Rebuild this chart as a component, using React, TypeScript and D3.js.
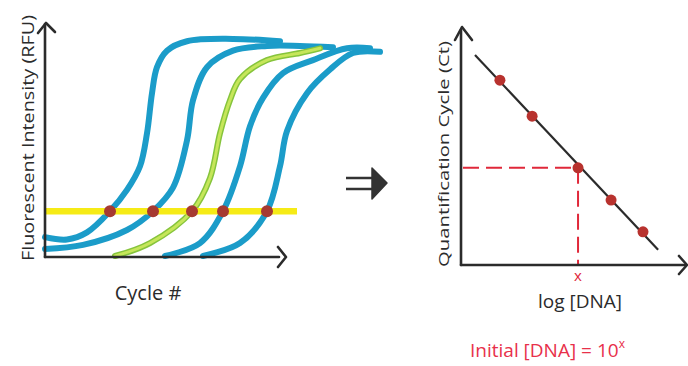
import React from 'react';
import * as d3 from 'd3';

// Amplification curves: [cycle, RFU]
const curveA: [number, number][] = [[0, 8], [4.4, 7], [8.4, 10], [13, 19], [16.4, 28], [19, 38], [20.4, 52], [21.4, 69], [22.4, 80], [24.4, 87], [28.4, 91], [37.6, 92], [47, 91]];
const curveB: [number, number][] = [[0, 3], [7.6, 4.7], [16.4, 11], [21.6, 19], [25.6, 29], [28.4, 49], [29.6, 66], [32.4, 80], [37.6, 87], [44.4, 89], [51, 89], [57.6, 88.5]];
const curveC: [number, number][] = [[14, 0], [21, 5.5], [29.4, 19], [33, 33], [35, 52], [37, 66], [39, 75], [44.4, 83], [51, 86], [55, 88]];
const curveD: [number, number][] = [[24, 0], [31, 5.5], [35.6, 19], [39, 38], [41, 55], [43.6, 67], [47.6, 77.5], [53.6, 83], [60.4, 88], [65, 88]];
const curveE: [number, number][] = [[31.6, 0], [39, 5.5], [44.4, 19], [47, 38], [48.4, 53], [52.4, 69], [57, 79], [61.6, 86], [67, 86.5]];
const ampCurves = [curveA, curveB, curveC, curveD, curveE];
const curveKinds = ['blue', 'blue', 'green', 'blue', 'blue'];
const thresholdRfu = 19;
const ctValues = [13, 21.6, 29.4, 35.6, 44.4];

// Standard curve: log[DNA] vs Ct
const logDna = [1.39, 2.54, 4.18, 5.36, 6.5];
const ctStd = [39, 31.4, 20.5, 13.7, 7.0];
const fitLine: [number, number][] = [[0.5, 44.3], [7.04, 3.2]];
const unknownLog = 4.18;
const unknownCt = 20.5;

const ink = '#2b2b2b';
const blue = '#1b9cc9';
const font = "'Open Sans', 'DejaVu Sans', sans-serif";

export default function App() {
  const xL = d3.scaleLinear().domain([0, 48]).range([45, 285]);
  const yL = d3.scaleLinear().domain([0, 100]).range([256, 20]);
  const xR = d3.scaleLinear().domain([0, 8]).range([461, 685]);
  const yR = d3.scaleLinear().domain([0, 50]).range([265, 28]);

  const line = d3
    .line<[number, number]>()
    .x((d) => xL(d[0]))
    .y((d) => yL(d[1]))
    .curve(d3.curveCatmullRom.alpha(0.5));

  const fit = d3
    .line<[number, number]>()
    .x((d) => xR(d[0]))
    .y((d) => yR(d[1]));

  const [lx0, lx1] = xL.range();
  const [ly0] = yL.range();
  const [rx0] = xR.range();
  const [ry0] = yR.range();

  return (
    <svg width={688} height={366} style={{ position: 'absolute', left: 0, top: 0, background: '#fff' }}>
      {/* Left panel curves */}
      {ampCurves.map((c, i) =>
        curveKinds[i] === 'green' ? (
          <g key={i}>
            <path d={line(c) || ''} fill="none" stroke="#86c43c" strokeWidth={6} strokeLinecap="round" />
            <path d={line(c) || ''} fill="none" stroke="#c6e65a" strokeWidth={3} strokeLinecap="round" />
          </g>
        ) : (
          <path key={i} d={line(c) || ''} fill="none" stroke={blue} strokeWidth={6} strokeLinecap="round" />
        )
      )}
      {/* threshold */}
      <line x1={lx0} x2={lx1 + 12} y1={yL(thresholdRfu)} y2={yL(thresholdRfu)} stroke="#f6eb16" strokeWidth={6.5} />
      {ctValues.map((ct, i) => (
        <circle key={i} cx={xL(ct)} cy={yL(thresholdRfu)} r={6} fill="#a63a32" />
      ))}
      {/* Left axes */}
      <g stroke={ink} strokeWidth={2.6} fill="none" strokeLinecap="round" strokeLinejoin="round">
        <line x1={lx0} y1={ly0 + 1} x2={lx0} y2={yL(100) + 4} />
        <polyline points={`${lx0 - 7},${yL(100) + 13} ${lx0 + 1},${yL(100) + 3} ${lx0 + 10},${yL(100) + 12}`} />
        <line x1={lx0} y1={ly0 + 1} x2={lx1 - 6} y2={ly0 + 1} />
        <polyline points={`${lx1 - 7},${ly0 - 9} ${lx1 + 1},${ly0 + 1} ${lx1 - 7},${ly0 + 11}`} />
      </g>
      <text x={148} y={300} textAnchor="middle" fontFamily={font} fontSize={20} fill={ink}>Cycle #</text>
      <text transform="translate(34,138) rotate(-90)" textAnchor="middle" fontFamily={font} fontSize={16} fill={ink} textLength={246} lengthAdjust="spacingAndGlyphs">Fluorescent Intensity (RFU)</text>

      {/* Arrow */}
      <g fill="#333" stroke="#333">
        <line x1={346} y1={178} x2={373} y2={178} strokeWidth={2.5} />
        <line x1={346} y1={189} x2={373} y2={189} strokeWidth={2.5} />
        <path d="M372,168 L387,183 L372,199 Z" strokeWidth={1.5} strokeLinejoin="round" />
      </g>

      {/* Right panel */}
      <path d={fit(fitLine) || ''} stroke={ink} strokeWidth={2.2} fill="none" />
      <g stroke="#e0283a" strokeWidth={2} fill="none" strokeDasharray="16 7">
        <line x1={rx0 + 2} y1={yR(unknownCt)} x2={xR(unknownLog)} y2={yR(unknownCt)} />
        <line x1={xR(unknownLog)} y1={yR(unknownCt)} x2={xR(unknownLog)} y2={ry0} />
      </g>
      {logDna.map((x, i) => (
        <circle key={i} cx={xR(x)} cy={yR(ctStd[i])} r={5.5} fill="#b8322e" />
      ))}
      <g stroke={ink} strokeWidth={2.6} fill="none" strokeLinecap="round" strokeLinejoin="round">
        <line x1={rx0} y1={ry0} x2={rx0} y2={yR(50) + 2} />
        <polyline points={`${rx0 - 6},${yR(50) + 12} ${rx0 + 1},${yR(50) - 1} ${rx0 + 11},${yR(50) + 12}`} />
        <line x1={rx0} y1={ry0} x2={xR(8)} y2={ry0} />
        <polyline points={`${xR(8) - 6},${ry0 - 9} ${xR(8) + 2},${ry0} ${xR(8) - 6},${ry0 + 9}`} />
      </g>
      <text x={xR(unknownLog)} y={281} textAnchor="middle" fontFamily={font} fontSize={15} fill="#e0283a">x</text>
      <text x={580} y={308} textAnchor="middle" fontFamily={font} fontSize={19} fill={ink}>log [DNA]</text>
      <text transform="translate(449,154) rotate(-90)" textAnchor="middle" fontFamily={font} fontSize={15} fill={ink} textLength={226} lengthAdjust="spacingAndGlyphs">Quantification Cycle (Ct)</text>
      <text x={470} y={357} fontFamily={font} fontSize={19} fill="#e8304a">
        Initial [DNA] = 10<tspan dy={-9} fontSize={12}>x</tspan>
      </text>
    </svg>
  );
}
